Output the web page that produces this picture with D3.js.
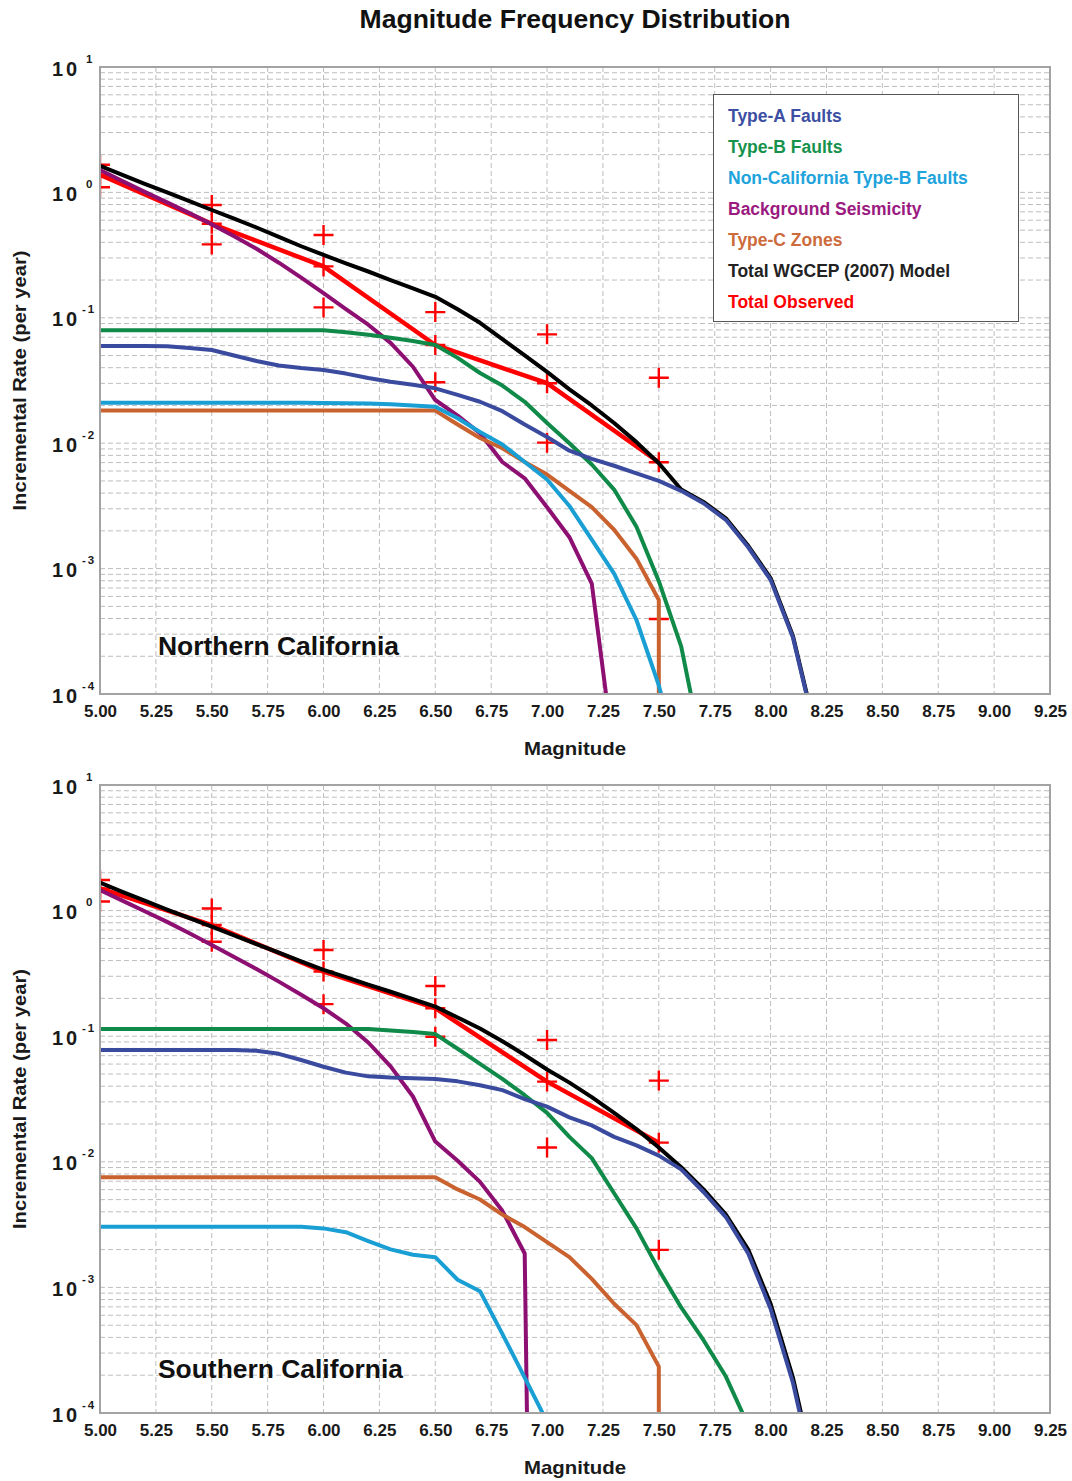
<!DOCTYPE html>
<html>
<head>
<meta charset="utf-8">
<script src="https://cdn.jsdelivr.net/npm/d3@7"></script>
<style>
  body { margin: 0; background: #fff; }
  svg text { font-family: "Liberation Sans", Arial, Helvetica, sans-serif; font-weight: bold; }
</style>
</head>
<body>
<svg id="chart" width="1072" height="1481"></svg>
<script>
// ---- magnitude bins shared by the model curves ----
const bins = [5.0, 5.1, 5.2, 5.3, 5.4, 5.5, 5.6, 5.7, 5.8, 5.9, 6.0, 6.1, 6.2, 6.3, 6.4, 6.5,
              6.6, 6.7, 6.8, 6.9, 7.0, 7.1, 7.2, 7.3, 7.4, 7.5, 7.6, 7.7, 7.8, 7.9, 8.0, 8.1, 8.2];

const xTickValues = [5.00, 5.25, 5.50, 5.75, 6.00, 6.25, 6.50, 6.75, 7.00, 7.25, 7.50, 7.75, 8.00, 8.25, 8.50, 8.75, 9.00, 9.25];
const xTickLabels = ["5.00", "5.25", "5.50", "5.75", "6.00", "6.25", "6.50", "6.75", "7.00", "7.25", "7.50", "7.75", "8.00", "8.25", "8.50", "8.75", "9.00", "9.25"];
const yDecadeExponents = [1, 0, -1, -2, -3, -4];

const seriesNames = ["Type-A Faults", "Type-B Faults", "Non-California Type-B Faults",
                     "Background Seismicity", "Type-C Zones", "Total WGCEP (2007) Model", "Total Observed"];

// ---- Northern California incremental rates (per year) ----
const northTypeA = [0.0596, 0.0596, 0.0596, 0.0592, 0.0575, 0.0553, 0.0501, 0.0452, 0.0417, 0.0398, 0.0384,
                    0.0359, 0.0331, 0.0309, 0.0292, 0.0274, 0.0243, 0.0214, 0.0180, 0.0141, 0.0112,
                    0.00871, 0.00750, 0.00661, 0.00575, 0.00501, 0.00417, 0.00332, 0.00245, 0.00148,
                    0.000813, 0.000282, 0.0000501];
const northTypeB = [0.0794, 0.0794, 0.0794, 0.0794, 0.0794, 0.0794, 0.0794, 0.0794, 0.0794, 0.0794, 0.0794,
                    0.0767, 0.0733, 0.0692, 0.0653, 0.0607, 0.0479, 0.0363, 0.0288, 0.0214, 0.0145,
                    0.0100, 0.00676, 0.00427, 0.00216, 0.000794, 0.000240, 0.0000316];
const northNonCA = [0.0210, 0.0210, 0.0210, 0.0210, 0.0210, 0.0210, 0.0210, 0.0210, 0.0210, 0.0210,
                    0.0209, 0.0208, 0.0207, 0.0204, 0.0200, 0.0195, 0.0158, 0.0123, 0.00977, 0.00708,
                    0.00513, 0.00316, 0.00170, 0.000912, 0.000389, 0.000117, 0.0000251];
const northBackground = [1.51, 1.23, 1.01, 0.832, 0.684, 0.556, 0.447, 0.355, 0.275, 0.209, 0.157,
                         0.117, 0.0881, 0.0631, 0.0407, 0.0221, 0.0166, 0.0120, 0.00708, 0.00525,
                         0.00309, 0.00178, 0.000759, 0.0000316];
const northTypeC = [0.0182, 0.0182, 0.0182, 0.0182, 0.0182, 0.0182, 0.0182, 0.0182, 0.0182, 0.0182,
                    0.0182, 0.0182, 0.0182, 0.0182, 0.0182, 0.0182, 0.0141, 0.0110, 0.00912, 0.00708,
                    0.00562, 0.00417, 0.00309, 0.00204, 0.00120, 0.000562];
const northTypeCCutoff = 7.5;
const northTotal = [1.63, 1.38, 1.17, 1.00, 0.851, 0.724, 0.617, 0.525, 0.442, 0.372, 0.317,
                    0.272, 0.234, 0.200, 0.172, 0.147, 0.117, 0.0912, 0.0676, 0.0501, 0.0370,
                    0.0269, 0.0200, 0.0145, 0.0102, 0.00692, 0.00427, 0.00340, 0.00252, 0.00152,
                    0.000840, 0.000290, 0.0000520];
const northObsMag   = [5.0, 5.5, 6.0, 6.5, 7.0, 7.5];
const northObsRate  = [1.38, 0.562, 0.257, 0.0607, 0.0301, 0.00705];
const northObsUpper = [1.66, 0.794, 0.457, 0.111, 0.0738, 0.0333];
const northObsLower = [1.10, 0.385, 0.121, 0.0306, 0.0101, 0.000396];

// ---- Southern California incremental rates (per year) ----
const southTypeA = [0.0776, 0.0776, 0.0776, 0.0776, 0.0776, 0.0776, 0.0776, 0.0767, 0.0724, 0.0646, 0.0571,
                    0.0513, 0.0479, 0.0468, 0.0462, 0.0457, 0.0437, 0.0407, 0.0372, 0.0316, 0.0275,
                    0.0226, 0.0195, 0.0158, 0.0135, 0.0112, 0.00871, 0.00575, 0.00363, 0.00186,
                    0.000676, 0.000174, 0.0000282];
const southTypeB = [0.114, 0.114, 0.114, 0.114, 0.114, 0.114, 0.114, 0.114, 0.114, 0.114, 0.114, 0.114, 0.114,
                    0.111, 0.108, 0.104, 0.0794, 0.0603, 0.0457, 0.0339, 0.0245, 0.0158, 0.0107,
                    0.00562, 0.00295, 0.00138, 0.000692, 0.000380, 0.000195, 0.0000794];
const southNonCA = [0.00304, 0.00304, 0.00304, 0.00304, 0.00304, 0.00304, 0.00304, 0.00304, 0.00304, 0.00304,
                    0.00295, 0.00275, 0.00234, 0.00201, 0.00182, 0.00174, 0.00115, 0.000933, 0.000427,
                    0.000191, 0.0000851];
const southBackground = [1.46, 1.20, 0.989, 0.813, 0.661, 0.532, 0.427, 0.343, 0.272, 0.214, 0.167,
                         0.126, 0.0891, 0.0575, 0.0331, 0.0145, 0.0102, 0.00692, 0.00407, 0.00186];
const southBackgroundCutoff = 6.91;
const southTypeC = [0.00752, 0.00752, 0.00752, 0.00752, 0.00752, 0.00752, 0.00752, 0.00752, 0.00752, 0.00752,
                    0.00752, 0.00752, 0.00752, 0.00752, 0.00752, 0.00752, 0.00603, 0.00501, 0.00380, 0.00302,
                    0.00229, 0.00174, 0.00117, 0.000741, 0.000501, 0.000234];
const southTypeCCutoff = 7.5;
const southTotal = [1.67, 1.41, 1.20, 1.02, 0.871, 0.745, 0.635, 0.542, 0.462, 0.394, 0.337,
                    0.295, 0.257, 0.226, 0.197, 0.172, 0.141, 0.115, 0.0912, 0.0708, 0.0543,
                    0.0427, 0.0327, 0.0245, 0.0182, 0.0130, 0.00906, 0.00603, 0.00380, 0.00200,
                    0.000741, 0.000191, 0.0000316];
const southObsMag   = [5.0, 5.5, 6.0, 6.5, 7.0, 7.5];
const southObsRate  = [1.50, 0.767, 0.327, 0.167, 0.0435, 0.0142];
const southObsUpper = [1.75, 1.04, 0.485, 0.251, 0.0933, 0.0443];
const southObsLower = [1.18, 0.565, 0.180, 0.0991, 0.0130, 0.00199];

// ---- styling ----
const lineColors = {
  typeA: "#3a4b9f", typeB: "#0f8a48", nonCA: "#1a9fd4", background: "#8d0f72",
  typeC: "#c9622f", total: "#000000", observed: "#ff0000"
};
const legendColors = ["#3d4fa3", "#16924d", "#21a3dc", "#9b1a80", "#cd6b3c", "#222222", "#ff0000"];

const svg = d3.select("#chart");
const plotLeft = 100, plotRight = 1050;

svg.append("text")
  .attr("x", 575).attr("y", 28)
  .attr("text-anchor", "middle")
  .attr("font-size", 25)
  .attr("textLength", 431).attr("lengthAdjust", "spacingAndGlyphs")
  .attr("fill", "#111")
  .text("Magnitude Frequency Distribution");

const panels = [
  {
    id: "north", label: "Northern California", labelWidth: 241, top: 67, bottom: 694, labelY: 655,
    typeA: northTypeA, typeB: northTypeB, nonCA: northNonCA,
    background: northBackground, backgroundCutoff: null,
    typeC: northTypeC, typeCCutoff: northTypeCCutoff, total: northTotal,
    obsMag: northObsMag, obsRate: northObsRate, obsUpper: northObsUpper, obsLower: northObsLower,
    legend: true
  },
  {
    id: "south", label: "Southern California", labelWidth: 245, top: 785, bottom: 1413, labelY: 1378,
    typeA: southTypeA, typeB: southTypeB, nonCA: southNonCA,
    background: southBackground, backgroundCutoff: southBackgroundCutoff,
    typeC: southTypeC, typeCCutoff: southTypeCCutoff, total: southTotal,
    obsMag: southObsMag, obsRate: southObsRate, obsUpper: southObsUpper, obsLower: southObsLower,
    legend: false
  }
];

panels.forEach(p => drawPanel(p));

function drawPanel(p) {
  const x = d3.scaleLinear().domain([5, 9.25]).range([plotLeft, plotRight]);
  const y = d3.scaleLog().domain([1e-4, 10]).range([p.bottom, p.top]);
  const g = svg.append("g").attr("class", "panel-" + p.id);

  // clip region for the curves
  const clipId = "clip-" + p.id;
  svg.append("defs").append("clipPath").attr("id", clipId)
    .append("rect")
    .attr("x", plotLeft).attr("y", p.top)
    .attr("width", plotRight - plotLeft).attr("height", p.bottom - p.top);

  // dashed grid: every 0.25 in magnitude, every 1..9 step within each decade
  const grid = g.append("g").attr("class", "grid")
    .attr("stroke", "#bdbdbd").attr("stroke-width", 1).attr("stroke-dasharray", "5,3");
  grid.selectAll("line.v")
    .data(xTickValues.slice(1, -1))
    .join("line").attr("class", "v")
    .attr("x1", d => x(d)).attr("x2", d => x(d))
    .attr("y1", p.top).attr("y2", p.bottom);
  const minorValues = [];
  yDecadeExponents.slice(1).forEach(e => {
    for (let m = 1; m <= 9; m++) minorValues.push(m * Math.pow(10, e));
  });
  grid.selectAll("line.h")
    .data(minorValues.filter(v => v > 1.0001e-4))
    .join("line").attr("class", "h")
    .attr("x1", plotLeft).attr("x2", plotRight)
    .attr("y1", d => y(d)).attr("y2", d => y(d));

  // x axis
  const xAxis = d3.axisBottom(x)
    .tickValues(xTickValues)
    .tickSize(0).tickPadding(11)
    .tickFormat((d, i) => xTickLabels[i]);
  const xg = g.append("g").attr("transform", `translate(0,${p.bottom})`).call(xAxis);
  xg.select(".domain").remove();
  xg.selectAll("text")
    .attr("font-size", 17).attr("fill", "#1a1a1a")
    .attr("font-family", "'Liberation Sans', Arial, sans-serif").attr("font-weight", "bold");

  g.append("text")
    .attr("x", 575).attr("y", p.bottom + 61)
    .attr("text-anchor", "middle")
    .attr("font-size", 19).attr("textLength", 102).attr("lengthAdjust", "spacingAndGlyphs")
    .attr("fill", "#1a1a1a")
    .text("Magnitude");

  // y axis: powers of ten with superscript exponents
  const yAxis = d3.axisLeft(y)
    .tickValues(yDecadeExponents.map(e => Math.pow(10, e)))
    .tickSize(0).tickFormat(() => "");
  const yg = g.append("g").attr("transform", `translate(${plotLeft},0)`).call(yAxis);
  yg.select(".domain").remove();
  yg.selectAll(".tick").each(function (d, i) {
    const t = d3.select(this);
    t.select("text").remove();
    t.append("text")
      .attr("x", -48).attr("y", 8)
      .attr("text-anchor", "start")
      .attr("font-size", 20).attr("letter-spacing", 3).attr("fill", "#1a1a1a")
      .text("10");
    const e = yDecadeExponents[i];
    t.append("text")
      .attr("x", e < 0 ? -18 : -14).attr("y", -5)
      .attr("text-anchor", "start")
      .attr("font-size", 11.5).attr("fill", "#1a1a1a")
      .attr("letter-spacing", e < 0 ? 2 : 0)
      .text(e < 0 ? "-" + Math.abs(e) : String(e));
  });

  g.append("text")
    .attr("transform", `translate(26,${(p.top + p.bottom) / 2}) rotate(-90)`)
    .attr("text-anchor", "middle")
    .attr("font-size", 18).attr("textLength", 260).attr("lengthAdjust", "spacingAndGlyphs")
    .attr("fill", "#1a1a1a")
    .text("Incremental Rate (per year)");

  // curves
  const line = d3.line().x(d => x(d[0])).y(d => y(d[1]));
  const toPoints = (rates, cutoff) => {
    const pts = rates.map((r, i) => [bins[i], r]);
    if (cutoff != null) pts.push([cutoff, y.domain()[0]]);   // rate falls to zero: drop to the axis floor
    return pts;
  };
  const curves = g.append("g").attr("clip-path", `url(#${clipId})`)
    .attr("fill", "none").attr("stroke-linejoin", "round");

  // observed: segments through the central estimates, with crosses at the estimate and its bounds
  const obsPts = p.obsMag.map((m, i) => [m, p.obsRate[i]]);
  curves.append("path").datum(obsPts)
    .attr("d", line).attr("stroke", lineColors.observed).attr("stroke-width", 4.5);
  const crossPts = [];
  p.obsMag.forEach((m, i) => {
    crossPts.push([m, p.obsUpper[i]], [m, p.obsRate[i]], [m, p.obsLower[i]]);
  });
  const arm = 10;
  const crosses = curves.append("g").attr("stroke", lineColors.observed).attr("stroke-width", 2.4);
  crosses.selectAll("path.cross").data(crossPts).join("path").attr("class", "cross")
    .attr("d", d => {
      const cx = x(d[0]), cy = y(d[1]);
      return `M${cx - arm},${cy}H${cx + arm}M${cx},${cy - arm}V${cy + arm}`;
    });

  const drawOrder = [
    { rates: p.total, color: lineColors.total, cutoff: null },
    { rates: p.background, color: lineColors.background, cutoff: p.backgroundCutoff },
    { rates: p.typeC, color: lineColors.typeC, cutoff: p.typeCCutoff },
    { rates: p.nonCA, color: lineColors.nonCA, cutoff: null },
    { rates: p.typeB, color: lineColors.typeB, cutoff: null },
    { rates: p.typeA, color: lineColors.typeA, cutoff: null }
  ];
  drawOrder.forEach(s => {
    curves.append("path").datum(toPoints(s.rates, s.cutoff))
      .attr("d", line).attr("stroke", s.color).attr("stroke-width", 4);
  });

  // frame
  g.append("rect")
    .attr("x", plotLeft).attr("y", p.top)
    .attr("width", plotRight - plotLeft).attr("height", p.bottom - p.top)
    .attr("fill", "none").attr("stroke", "#a3a3a3").attr("stroke-width", 2);

  // region label
  g.append("text")
    .attr("x", 158).attr("y", p.labelY)
    .attr("font-size", 26).attr("fill", "#111")
    .attr("textLength", p.labelWidth).attr("lengthAdjust", "spacingAndGlyphs")
    .text(p.label);

  if (p.legend) {
    const lg = g.append("g");
    lg.append("rect")
      .attr("x", 713.5).attr("y", 94.5).attr("width", 305).attr("height", 227)
      .attr("fill", "#fff").attr("stroke", "#555").attr("stroke-width", 1);
    lg.selectAll("text").data(seriesNames).join("text")
      .attr("x", 728).attr("y", (d, i) => 122 + i * 31)
      .attr("font-size", 17.5)
      .attr("fill", (d, i) => legendColors[i])
      .text(d => d);
  }
}
</script>
</body>
</html>
